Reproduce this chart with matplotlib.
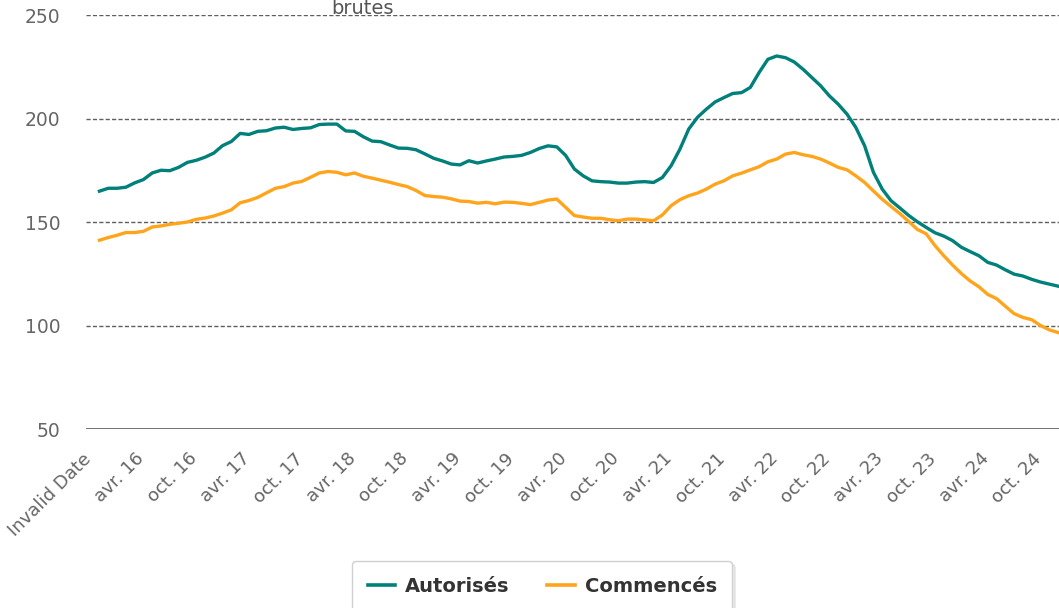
import numpy as np
import matplotlib.pyplot as plt
from matplotlib.transforms import ScaledTranslation

######data######
autorises = [164.9, 166.3, 166.3, 166.8, 168.9, 170.5, 173.7, 175.0, 174.8, 176.4,
             178.8, 179.8, 181.3, 183.3, 186.9, 188.9, 192.8, 192.3, 193.8, 194.1,
             195.4, 195.8, 194.7,
             195.2, 195.5, 197.1, 197.3, 197.3, 194.0, 193.8, 191.2, 189.1, 188.8,
             187.2, 185.7, 185.6, 184.9, 182.9, 180.8, 179.5, 178.0, 177.6, 179.6,
             178.5, 179.5, 180.4, 181.4,
             181.7, 182.2, 183.6, 185.5, 186.8, 186.3, 182.2, 175.6, 172.3, 169.9,
             169.5, 169.3, 168.8, 168.8, 169.3, 169.5, 169.1, 171.5, 177.2, 185.2,
             194.9, 200.6, 204.5, 208.0,
             210.1, 212.1, 212.5, 215.0, 222.2, 228.6, 230.2, 229.4, 227.3, 223.8,
             219.8, 215.8, 210.9, 206.9, 202.1, 195.7, 186.8, 174.0, 165.9, 160.3,
             156.8, 153.2, 150.1, 147.4, 144.8, 143.2, 141.0, 137.8, 135.7, 133.7,
             130.5, 129.2, 126.9, 124.8, 123.9, 122.3, 121.0, 120.0, 119.0]
commences = [141.2, 142.5, 143.6, 144.9, 144.9, 145.5, 147.6, 148.1, 148.9, 149.4,
             150.0, 151.3, 151.9, 152.9, 154.3, 155.9, 159.3, 160.4, 161.9, 164.1,
             166.3, 167.1, 168.8,
             169.6, 171.6, 173.7, 174.4, 174.0, 172.8, 173.7, 172.1, 171.2, 170.2,
             169.2, 168.1, 167.1, 165.2, 162.8, 162.3, 162.0, 161.2, 160.1, 159.9,
             159.1, 159.5, 158.8, 159.6,
             159.5, 159.0, 158.4, 159.5, 160.6, 161.1, 157.1, 153.1, 152.4, 151.8,
             151.8, 151.1, 150.6, 151.4, 151.4, 151.0, 150.6, 153.4, 157.9, 160.8,
             162.7, 164.0, 165.9, 168.3,
             169.9, 172.3, 173.6, 175.2, 176.7, 179.1, 180.4, 182.8, 183.6, 182.5,
             181.7, 180.4, 178.5, 176.4, 175.2, 172.3, 169.1, 165.0, 161.0, 157.5,
             154.1, 150.3, 146.4, 144.3, 138.6, 133.7, 129.2, 125.1, 121.5, 118.7,
             115.0, 113.0, 109.3, 105.7, 103.9, 102.8, 100.0, 97.9, 96.6]
tick_labels = ["Invalid Date", "avr. 16", "oct. 16", "avr. 17", "oct. 17", "avr. 18",
               "oct. 18", "avr. 19", "oct. 19", "avr. 20", "oct. 20", "avr. 21",
               "oct. 21", "avr. 22", "oct. 22", "avr. 23", "oct. 23", "avr. 24", "oct. 24"]
y_ticks = [50, 100, 150, 200, 250]

months = np.arange(len(autorises))

plt.rcParams['font.family'] = ['DejaVu Sans']
fig = plt.figure(figsize=(10.59, 6.08), dpi=100)
ax = fig.add_axes([0.0812, 0.2944, 0.9188, 0.6809])

for y in y_ticks[1:]:
    ax.axhline(y, color='#5e5e5e', lw=1.0, dashes=(3.0, 1.6), zorder=1)
ax.axhline(50, color='#666666', lw=1.3, zorder=1)

ax.plot(months, autorises, color='#00807a', lw=2.4, label='Autorisés', zorder=3,
        solid_joinstyle='round')
ax.plot(months, commences, color='#ffa41b', lw=2.4, label='Commencés', zorder=3,
        solid_joinstyle='round')

ax.set_xlim(-1.53, 109.1)
ax.set_ylim(50, 250)
ax.set_yticks(y_ticks)
ax.set_yticklabels([str(v) for v in y_ticks], fontsize=13.5, color='#666666')
ax.set_xticks(months[::6])
ax.set_xticklabels(tick_labels, rotation=45, ha='right', va='baseline',
                   rotation_mode='anchor', fontsize=13, color='#666666')
ax.tick_params(axis='both', length=0)
ax.tick_params(axis='y', pad=18.5)
ax.tick_params(axis='x', pad=22)
shift = ScaledTranslation(-0.07, 0, fig.dpi_scale_trans)
for lab in ax.get_xticklabels():
    lab.set_transform(lab.get_transform() + shift)
for s in ax.spines.values():
    s.set_visible(False)

fig.text(0.342, 0.977, 'brutes', fontsize=14, color='#555555', ha='center', va='baseline')

leg = fig.legend(loc='upper center', bbox_to_anchor=(0.512, 0.0765), ncol=2,
                 borderaxespad=0, frameon=True, fancybox=True, fontsize=14,
                 handlelength=1.4, columnspacing=1.95, borderpad=0.8,
                 handletextpad=0.52,
                 shadow={'color': '#000000', 'alpha': 0.08, 'ox': 2, 'oy': -2})
for t in leg.get_texts():
    t.set_fontweight('bold')
    t.set_color('#333333')
for h in leg.legend_handles:
    h.set_linewidth(2.6)
leg.get_frame().set_edgecolor('#d0d0d0')
leg.get_frame().set_linewidth(1.0)

plt.savefig('out.png', dpi=100)
